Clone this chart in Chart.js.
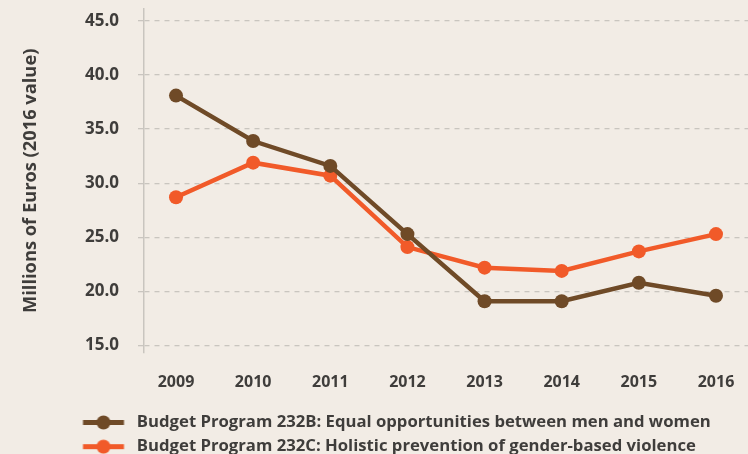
<!DOCTYPE html>
<html>
<head>
<meta charset="utf-8">
<script src="https://cdn.jsdelivr.net/npm/chart.js@4.4.1/dist/chart.umd.min.js"></script>
<style>
  html, body { margin: 0; padding: 0; background: #f2ece5; overflow: hidden; }
  /* a bit wider and taller than the window: the point overflow padding on the right
     and the legend's bottom margin fall outside the visible area */
  #wrap { width: 755px; height: 465px; }
</style>
</head>
<body>
<div id="wrap"><canvas id="budgetChart"></canvas></div>
<script>
const years = [2009, 2010, 2011, 2012, 2013, 2014, 2015, 2016];
const yTicks = [15, 20, 25, 30, 35, 40, 45];
const program232B = [38.1, 33.9, 31.6, 25.3, 19.1, 19.1, 20.8, 19.6];
const program232C = [28.7, 31.9, 30.7, 24.1, 22.2, 21.9, 23.7, 25.3];
const seriesNames = [
  "Budget Program 232B: Equal opportunities between men and women",
  "Budget Program 232C: Holistic prevention of gender-based violence"
];

const brown = "#6f4a27";
const orange = "#f15a29";
const textColor = "#3f3d3b";

// legend marker: short thick line with a dot in the middle
function makeMarker(color) {
  const c = document.createElement("canvas");
  c.width = 121;
  c.height = 17;
  const g = c.getContext("2d");
  g.strokeStyle = color;
  g.lineWidth = 5;
  g.beginPath();
  g.moveTo(75.5, 8.5);
  g.lineTo(116.5, 8.5);
  g.stroke();
  g.fillStyle = color;
  g.beginPath();
  g.arc(96, 8.5, 7, 0, Math.PI * 2);
  g.fill();
  return c;
}
const markers = [makeMarker(brown), makeMarker(orange)];

Chart.defaults.font.family = "'Open Sans', Lato, sans-serif";
Chart.defaults.font.weight = "bold";
Chart.defaults.color = textColor;

const toPoints = (vals) => vals.map((v, i) => ({ x: years[i], y: v }));

new Chart(document.getElementById("budgetChart"), {
  type: "line",
  data: {
    datasets: [
      {
        label: seriesNames[0],
        data: toPoints(program232B),
        borderColor: brown,
        backgroundColor: brown,
        borderWidth: 4.5,
        pointRadius: 7,
        pointBorderWidth: 0,
        pointBackgroundColor: brown,
        tension: 0,
      },
      {
        label: seriesNames[1],
        data: toPoints(program232C),
        borderColor: orange,
        backgroundColor: orange,
        borderWidth: 4.5,
        pointRadius: 7,
        pointBorderWidth: 0,
        pointBackgroundColor: orange,
        tension: 0,
      },
    ],
  },
  options: {
    responsive: true,
    maintainAspectRatio: false,
    animation: false,
    layout: { padding: { left: 0, right: 0, top: 9, bottom: 0 } },
    plugins: {
      tooltip: { enabled: false },
      legend: {
        position: "bottom",
        align: "start",
        labels: {
          usePointStyle: true,
          pointStyleWidth: 121,
          padding: 7.5,
          color: textColor,
          font: { size: 16.7, weight: "bold" },
          generateLabels: (chart) =>
            Chart.defaults.plugins.legend.labels.generateLabels(chart).map((item, i) => {
              item.pointStyle = markers[i];
              return item;
            }),
        },
      },
    },
    scales: {
      x: {
        type: "linear",
        min: 2008.585,
        max: 2016.415,
        afterBuildTicks: (scale) => {
          scale.ticks = years.map((v) => ({ value: v }));
        },
        afterFit: (scale) => {
          scale.height = 54;
        },
        grid: { display: false },
        border: { display: false },
        ticks: {
          padding: 12,
          font: { size: 16, weight: "bold" },
          callback: (v) => String(v),
        },
      },
      y: {
        min: 14.35,
        max: 46.1,
        afterBuildTicks: (scale) => {
          scale.ticks = yTicks.map((v) => ({ value: v }));
        },
        afterFit: (scale) => {
          scale.width = 144;
          scale.paddingTop = 0;
          scale.paddingBottom = 0;
        },
        grid: {
          color: "#c9c5bf",
          lineWidth: 1.3,
          tickLength: 6,
        },
        border: { display: true, color: "#c9c5bf", width: 1.5, dash: [5, 5] },
        ticks: {
          padding: 19,
          font: { size: 17, weight: "bold" },
          callback: (v) => v.toFixed(1),
        },
        title: {
          display: true,
          text: "Millions of Euros (2016 value)",
          color: textColor,
          font: { size: 18.3, weight: "bold" },
          padding: { top: 20, bottom: 0 },
        },
      },
    },
  },
});
</script>
</body>
</html>
